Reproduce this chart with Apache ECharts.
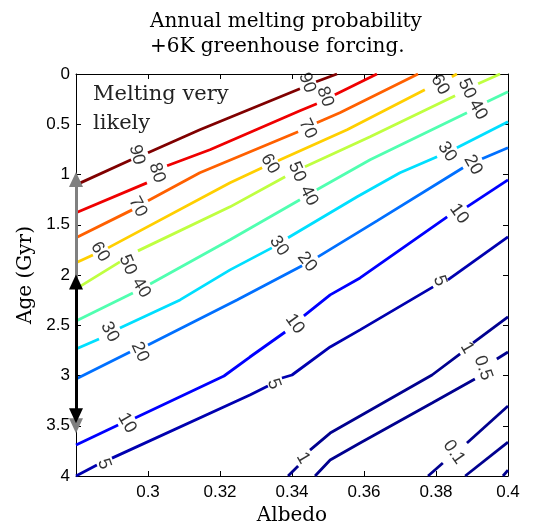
<!DOCTYPE html>
<html><head><meta charset="utf-8">
<script src="https://cdn.jsdelivr.net/npm/echarts@6/dist/echarts.min.js"></script>
<style>html,body{margin:0;padding:0;background:#fff}#c{width:534px;height:531px}</style>
</head><body><div id="c"></div>
<script>
// Contour levels (each contour: list of segments of [albedo, age]; breaks are where labels sit)
const c90 = [[[0.28,1.103],[0.2953,0.854]],[[0.3,0.784],[0.3144,0.555],[0.3422,0.146]],[[0.3467,0.077],[0.3525,0]]];
const c80 = [[[0.28,1.381],[0.2997,1.083]],[[0.3053,0.913],[0.3172,0.754],[0.3422,0.366],[0.3469,0.296]],[[0.3519,0.206],[0.3636,0]]];
const c70 = [[[0.28,1.63],[0.2956,1.352]],[[0.3,1.262],[0.3144,0.983],[0.3417,0.575]],[[0.3469,0.485],[0.3533,0.385],[0.375,0]]];
const c60 = [[[0.28,1.879],[0.2847,1.8]],[[0.2889,1.73],[0.3228,1.083],[0.3317,0.933]],[[0.3361,0.864],[0.3553,0.555],[0.3769,0.156]],[[0.3844,0.027],[0.3858,0]]];
const c50 = [[[0.28,2.138],[0.2922,1.869]],[[0.2972,1.76],[0.3228,1.322],[0.3381,1.023]],[[0.3436,0.923],[0.3617,0.625],[0.3853,0.216]],[[0.3917,0.097],[0.3978,0]]];
const c40 = [[[0.28,2.457],[0.2958,2.178]],[[0.3006,2.089],[0.3228,1.65],[0.3422,1.252]],[[0.3469,1.152],[0.3617,0.854],[0.3886,0.385]],[[0.3942,0.276],[0.4,0.176]]];
const c30 = [[[0.28,2.736],[0.2864,2.636]],[[0.2922,2.527],[0.3089,2.248],[0.3228,1.949],[0.3344,1.73]],[[0.3389,1.63],[0.3581,1.222],[0.37,0.983],[0.3803,0.824]],[[0.3858,0.734],[0.4,0.475]]];
const c20 = [[[0.28,3.035],[0.295,2.766]],[[0.3,2.696],[0.3247,2.248],[0.3428,1.909]],[[0.3472,1.82],[0.3636,1.461],[0.3875,0.933]],[[0.3928,0.844],[0.4,0.734]]];
const c10 = [[[0.28,3.692],[0.2917,3.493]],[[0.2964,3.423],[0.3211,3.005],[0.3283,2.816],[0.3381,2.567]],[[0.3433,2.407],[0.3506,2.198],[0.3589,2.029],[0.3831,1.421]],[[0.3886,1.322],[0.4,1.053]]];
const c5 = [[[0.28,4],[0.2858,3.891]],[[0.29,3.822],[0.3283,3.194],[0.3333,3.104]],[[0.3372,3.025],[0.34,2.995],[0.3506,2.716],[0.3589,2.546],[0.3792,2.118]],[[0.3833,2.048],[0.4,1.62]]];
const c1 = [[[0.3389,4],[0.3417,3.901]],[[0.345,3.742],[0.3506,3.573],[0.3589,3.403],[0.3789,2.995],[0.3867,2.786]],[[0.3903,2.676],[0.4,2.417]]];
const c05 = [[[0.3464,4],[0.3506,3.841],[0.3589,3.672],[0.3789,3.274],[0.3908,3.035]],[[0.3969,2.836],[0.4,2.766]]];
const c01 = [[[0.3778,4],[0.3819,3.871]],[[0.3886,3.672],[0.4,3.304]]];
const cLowA = [[[0.3881,4],[0.4,3.662]]];
const cLowB = [[[0.3986,4],[0.4,3.941]]];

const contours = [c90,c80,c70,c60,c50,c40,c30,c20,c10,c5,c1,c05,c01,cLowA,cLowB];
const contourColors = ['#800000','#ef0000','#ff6000','#ffcf00','#bfff40','#50ffb0','#00dfff','#0070ff','#0000ff','#0000b0','#00008f','#00008f','#00008f','#00008f','#00008f'];

// Contour labels
const labelText   = ['90','80','90','80','70','70','60','60','60','50','40','50','40','50','40','30','30','30','20','20','20','10','10','10','5','5','5','1','1','0.5','0.1'];
const labelAlbedo = [0.2969,0.3025,0.3442,0.3492,0.2972,0.3444,0.2867,0.3339,0.3811,0.2944,0.2981,0.3414,0.3447,0.3886,0.3917,0.2894,0.3364,0.3831,0.2978,0.3442,0.3903,0.2942,0.3408,0.3864,0.2878,0.335,0.3811,0.3431,0.3886,0.3931,0.385];
const labelAge    = [0.804,0.983,0.087,0.226,1.322,0.545,1.77,0.893,0.107,1.899,2.128,0.973,1.212,0.146,0.356,2.567,1.71,0.774,2.766,1.869,0.904,3.473,2.487,1.391,3.881,3.085,2.058,3.822,2.726,2.925,3.762];
const labelAngle  = [75,72,70,70,62,65,58,58,60,67,58,67,63,65,60,63,55,56,65,52,60,60,54,54,70,70,70,60,60,70,55];

// Annotation arrows on the age axis [albedo, ageStart, ageEnd]
const grayArrow = [0.28, 1.05, 3.50];
const blackArrow = [0.28, 2.07, 3.40];

const series = [];
contours.forEach((segs, i) => {
  segs.forEach(seg => {
    series.push({type:'line', data: seg, showSymbol:false, symbol:'none', silent:true, z:2,
      lineStyle:{color: contourColors[i], width:2.8}, animation:false});
  });
});
series.push({
  type:'scatter', symbolSize:1, itemStyle:{color:'rgba(0,0,0,0)'}, silent:true, z:3, clip:false,
  data: labelText.map((t,i)=>({value:[labelAlbedo[i], labelAge[i]],
    label:{show:true, position:'inside', formatter:t, rotate:-labelAngle[i], color:'#000', textBorderWidth:0}})),
  label:{color:'#000', fontSize:18, fontFamily:'Liberation Sans', textBorderWidth:0}
});
function arrowSeries(a, color, z){
  return {type:'line', data:[], clip:false, z:z, silent:true,
    markLine:{silent:true, symbol:['triangle','triangle'], symbolSize:[14,15], animation:false,
      label:{show:false}, lineStyle:{color:color, width:3, type:'solid'},
      emphasis:{disabled:true},
      data:[[{coord:[a[0],a[1]]},{coord:[a[0],a[2]]}]]}};
}
series.push(arrowSeries(grayArrow,'#808080',5));
series.push(arrowSeries(blackArrow,'#000000',6));

const axisCommon = {type:'value', splitLine:{show:false},
  axisLine:{show:true, onZero:false, lineStyle:{color:'#000', width:1}},
  axisTick:{show:true, inside:true, length:5, lineStyle:{color:'#000', width:1}}};
const fmt = v => String(+(+v).toFixed(2));

const chart = echarts.init(document.getElementById('c'), null, {renderer:'canvas'});
chart.setOption({
  animation:false,
  backgroundColor:'#fff',
  grid:{left:76, top:74, width:432, height:402, outerBoundsMode:'none', containLabel:false},
  xAxis:[
    Object.assign({}, axisCommon, {min:0.28, max:0.4, interval:0.02, position:'bottom',
      axisLabel:{formatter: v => Math.abs(v-0.28)<1e-9 ? '' : fmt(v), fontSize:17, fontFamily:'Liberation Sans', color:'#000', margin:8},
      name:'Albedo', nameLocation:'middle', nameGap:28,
      nameTextStyle:{fontFamily:'DejaVu Serif', fontSize:20, color:'#000'}}),
    Object.assign({}, axisCommon, {min:0.28, max:0.4, interval:0.02, position:'top', axisLabel:{show:false}})
  ],
  yAxis:[
    Object.assign({}, axisCommon, {min:0, max:4, interval:0.5, inverse:true, position:'left',
      axisLabel:{formatter: fmt, fontSize:17, fontFamily:'Liberation Sans', color:'#000', margin:6},
      name:'Age (Gyr)', nameLocation:'middle', nameGap:40,
      nameTextStyle:{fontFamily:'DejaVu Serif', fontSize:20, color:'#000'}}),
    Object.assign({}, axisCommon, {min:0, max:4, interval:0.5, inverse:true, position:'right', axisLabel:{show:false}})
  ],
  graphic:[
    {type:'text', x:150, y:22, silent:true, style:{text:'Annual melting probability', font:'20px "DejaVu Serif"', fill:'#000', textAlign:'left', textVerticalAlign:'middle'}},
    {type:'text', x:150, y:47, silent:true, style:{text:'+6K greenhouse forcing.', font:'20px "DejaVu Serif"', fill:'#000', textAlign:'left', textVerticalAlign:'middle'}},
    {type:'text', x:93, y:94.5, silent:true, z:10, style:{text:'Melting very', font:'21px "DejaVu Serif"', fill:'#222', textAlign:'left', textVerticalAlign:'middle'}},
    {type:'text', x:93, y:123.5, silent:true, z:10, style:{text:'likely', font:'21px "DejaVu Serif"', fill:'#222', textAlign:'left', textVerticalAlign:'middle'}}
  ],
  series: series
});
</script></body></html>
